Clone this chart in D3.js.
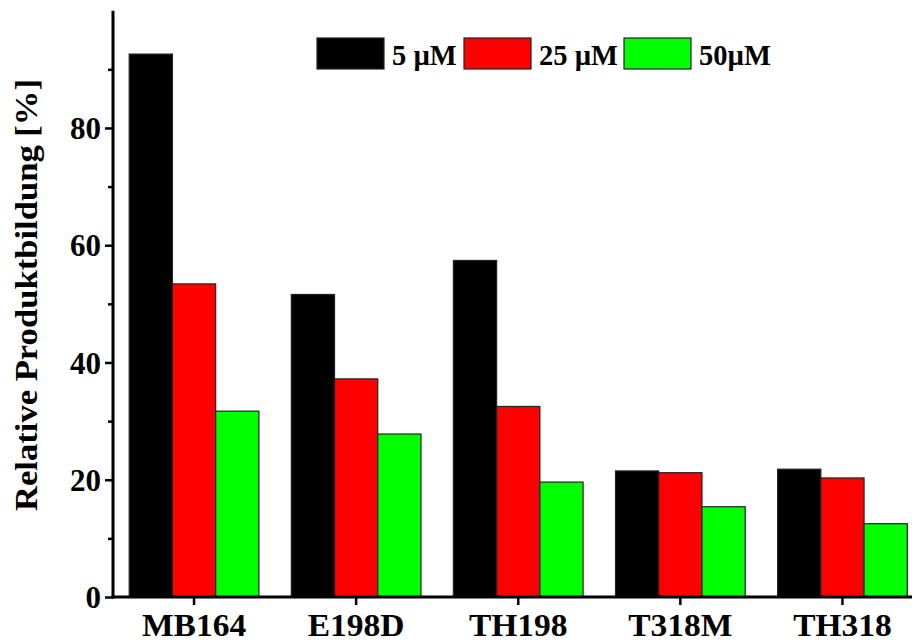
<!DOCTYPE html>
<html>
<head>
<meta charset="utf-8">
<script src="https://cdn.jsdelivr.net/npm/d3@7"></script>
<style>
  html, body { margin: 0; padding: 0; background: #fff; }
  svg { display: block; }
  text { font-family: "Liberation Serif", "Times New Roman", serif; font-weight: bold; fill: #000; }
</style>
</head>
<body>
<svg id="chart" width="912" height="642"></svg>
<script>
// Relative product formation per enzyme variant at three concentrations
const categories = ["MB164", "E198D", "TH198", "T318M", "TH318"];
const seriesNames = ["5 µM", "25 µM", "50µM"];
const seriesColors = ["#000000", "#ff0000", "#00ff00"];
const values5 = [92.6, 51.6, 57.4, 21.5, 21.8];
const values25 = [53.4, 37.2, 32.5, 21.2, 20.3];
const values50 = [31.7, 27.8, 19.6, 15.4, 12.5];
const yTicks = [0, 20, 40, 60, 80];

const series = [values5, values25, values50];

const svg = d3.select("#chart");
const margin = { left: 113, top: 10.7, bottom: 597 };
const xRangeEnd = 923.5;

const x = d3.scaleBand()
  .domain(categories)
  .range([margin.left, xRangeEnd])
  .paddingInner(0.2)
  .paddingOuter(0.1);

const xSub = d3.scaleBand()
  .domain(d3.range(series.length))
  .range([0, x.bandwidth()]);

const y = d3.scaleLinear()
  .domain([0, 100])
  .range([margin.bottom, margin.top]);

// Widen bold serif text slightly, for a book-face look
function widen(sel, factor) {
  sel.each(function () {
    const w = this.getComputedTextLength();
    d3.select(this).attr("textLength", w * factor).attr("lengthAdjust", "spacingAndGlyphs");
  });
}

// Bars
const groups = svg.append("g")
  .selectAll("g")
  .data(categories)
  .join("g")
  .attr("transform", d => `translate(${x(d)},0)`);

groups.selectAll("rect")
  .data((d, i) => series.map((s, k) => ({ k, v: s[i] })))
  .join("rect")
  .attr("x", d => xSub(d.k))
  .attr("y", d => y(d.v))
  .attr("width", xSub.bandwidth())
  .attr("height", d => y(0) - y(d.v))
  .attr("fill", d => seriesColors[d.k])
  .attr("stroke", "#222")
  .attr("stroke-width", 1.2);

// Y axis with minor ticks
const yAxisG = svg.append("g").attr("transform", `translate(${margin.left},0)`);
yAxisG.call(d3.axisLeft(y).tickValues(d3.range(10, 100, 20)).tickSize(5).tickFormat(""));
yAxisG.append("g").call(d3.axisLeft(y).tickValues(yTicks).tickSize(8).tickPadding(4).tickFormat(d3.format("d")));
yAxisG.selectAll(".domain").remove();
yAxisG.append("line")
  .attr("x1", 0).attr("x2", 0)
  .attr("y1", y(100)).attr("y2", y(0) + 1.5)
  .attr("stroke", "#000").attr("stroke-width", 3);
yAxisG.selectAll(".tick line").attr("stroke", "#000").attr("stroke-width", 2.5);
yAxisG.selectAll(".tick text").style("font-size", "31px").attr("dy", "0.34em");

// X axis
const xAxisG = svg.append("g").attr("transform", `translate(0,${margin.bottom})`);
xAxisG.call(d3.axisBottom(x).tickSize(8).tickPadding(8).tickSizeOuter(0));
xAxisG.select(".domain").remove();
xAxisG.append("line")
  .attr("x1", margin.left - 1.5).attr("x2", xRangeEnd)
  .attr("y1", 0).attr("y2", 0)
  .attr("stroke", "#000").attr("stroke-width", 3);
xAxisG.selectAll(".tick line").attr("stroke", "#000").attr("stroke-width", 2.5);
xAxisG.selectAll(".tick text").style("font-size", "31px").attr("dy", "0.74em");
widen(xAxisG.selectAll(".tick text"), 1.08);

// Y axis title
svg.append("text")
  .attr("transform", "translate(37,295) rotate(-90)")
  .attr("text-anchor", "middle")
  .style("font-size", "31px")
  .attr("textLength", 432)
  .attr("lengthAdjust", "spacingAndGlyphs")
  .text("Relative Produktbildung [%]");

// Legend
const legendX = [317, 464, 624];
const legend = svg.append("g")
  .selectAll("g")
  .data(seriesNames)
  .join("g")
  .attr("transform", (d, i) => `translate(${legendX[i]},38)`);
legend.append("rect")
  .attr("width", 67).attr("height", 31)
  .attr("fill", (d, i) => seriesColors[i])
  .attr("stroke", "#222").attr("stroke-width", 1.2);
legend.append("text")
  .attr("x", 75).attr("y", 27)
  .style("font-size", "28.5px")
  .text(d => d);
</script>
</body>
</html>
